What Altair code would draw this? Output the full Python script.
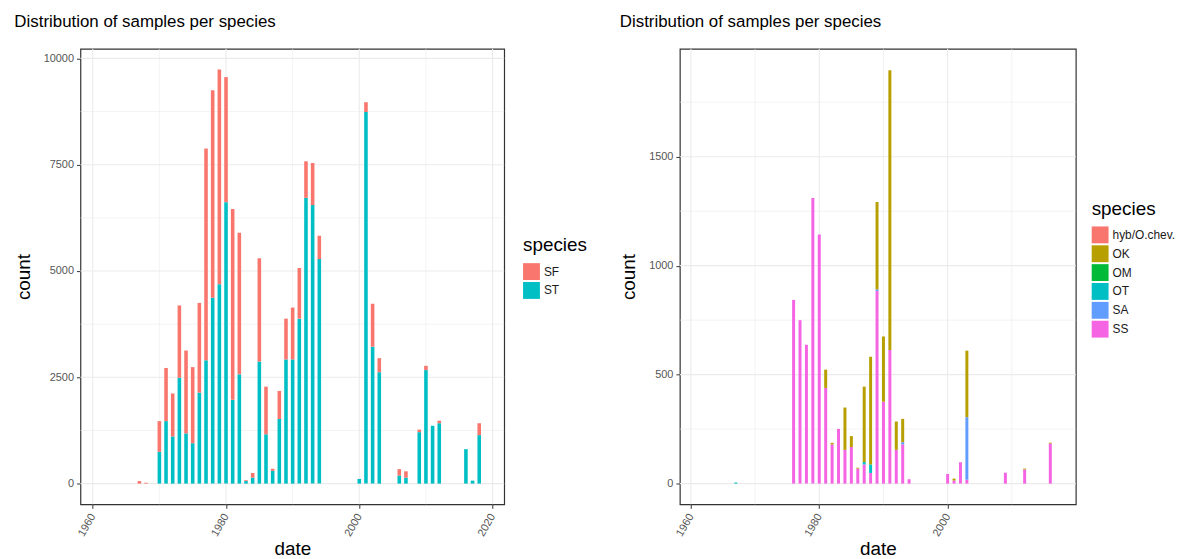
import altair as alt
import pandas as pd

# ---- left panel: SF / ST samples per year ----
left_years = [1967, 1968, 1970, 1971, 1972, 1973, 1974, 1975, 1976, 1977, 1978,
              1979, 1980, 1981, 1982, 1983, 1984, 1985, 1986, 1987, 1988, 1989,
              1990, 1991, 1992, 1993, 1994, 2000, 2001, 2002, 2003, 2006, 2007,
              2009, 2010, 2011, 2012, 2016, 2017, 2018]
left_st = [0, 0, 750, 1470, 1110, 2490, 1180, 950, 2140, 2900, 4370,
           4690, 6620, 1970, 2570, 60, 140, 2870, 1160, 300, 1520, 2920,
           2920, 3880, 6720, 6550, 5280, 110, 8740, 3220, 2620, 190, 140,
           1210, 2670, 1360, 1420, 810, 70, 1140]
left_sf = [60, 20, 720, 1250, 1010, 1700, 1950, 1790, 2110, 4980, 4880,
           5050, 2940, 4490, 3330, 20, 110, 2430, 1120, 50, 660, 960,
           1220, 1190, 860, 990, 550, 0, 230, 1010, 330, 150, 150,
           60, 100, 0, 60, 0, 0, 280]

# ---- right panel: other species per year ----
right_years = [1967, 1976, 1977, 1978, 1979, 1980, 1981, 1982, 1983, 1984, 1985,
               1986, 1987, 1988, 1989, 1990, 1991, 1992, 1993, 1994, 2000, 2001,
               2002, 2003, 2009, 2012, 2016]
right_ss = [0, 843, 750, 637, 1311, 1143, 439, 180, 251, 155, 168,
            69, 88, 49, 884, 376, 613, 155, 180, 20, 44, 14,
            98, 18, 50, 65, 184]
right_sa = [0, 0, 0, 0, 0, 0, 0, 0, 0, 0, 0,
            0, 0, 0, 7, 0, 0, 0, 10, 0, 0, 0,
            0, 287, 0, 0, 0]
right_ot = [5, 0, 0, 0, 0, 0, 0, 0, 0, 0, 0,
            0, 11, 39, 0, 0, 0, 0, 0, 0, 0, 0,
            0, 0, 0, 0, 0]
right_om = [0] * len(right_years)
right_ok = [0, 0, 0, 0, 0, 0, 84, 7, 0, 194, 50,
            4, 346, 494, 401, 299, 1284, 130, 107, 0, 0, 9,
            0, 305, 0, 4, 4]
right_hyb = [0] * len(right_years)

left_species = ["SF", "ST"]
left_colors = ["#F8766D", "#00BFC4"]
right_species = ["hyb/O.chev.", "OK", "OM", "OT", "SA", "SS"]
right_colors = ["#F8766D", "#B79F00", "#00BA38", "#00BFC4", "#619CFF", "#F564E3"]

FONT = "Liberation Sans"
TITLE = "Distribution of samples per species"
LABEL_GREY = "#555555"


def long_table(years, series):
    # series is listed bottom of the stack first
    rows = []
    for rank, (name, values) in enumerate(series):
        for year, v in zip(years, values):
            if v > 0:
                rows.append({"date": year, "species": name, "count": v, "stack": rank})
    return pd.DataFrame(rows)


def panel(df, species, colors, x_dom, y_dom, x_major, x_minor, y_major, y_minor,
          width, bar_size, legend_x, legend_y):
    xs = alt.Scale(domain=x_dom, nice=False, zero=False)
    ys = alt.Scale(domain=y_dom, nice=False, zero=False)
    # same axis objects on every layer so they merge into one
    x_axis = alt.Axis(values=x_major, format="d", title="date", labelAngle=300,
                      labelAlign="right", labelBaseline="middle", labelPadding=6,
                      labelColor=LABEL_GREY, titlePadding=2)
    y_axis = alt.Axis(values=y_major, format="d", title="count", labelColor=LABEL_GREY,
                      titlePadding=10)

    def grid(values, channel, width_px):
        rule = alt.Chart(pd.DataFrame({"v": values})).mark_rule(color="#ebebeb", strokeWidth=width_px)
        if channel == "x":
            return rule.encode(x=alt.X("v:Q", scale=xs, axis=x_axis))
        return rule.encode(y=alt.Y("v:Q", scale=ys, axis=y_axis))

    bars = (
        alt.Chart(df)
        .mark_bar(orient="vertical", size=bar_size)
        .encode(
            x=alt.X("date:Q", scale=xs, axis=x_axis),
            y=alt.Y("count:Q", stack="zero", scale=ys, axis=y_axis),
            color=alt.Color("species:N",
                            scale=alt.Scale(domain=species, range=colors),
                            legend=alt.Legend(title="species", orient="none",
                                              legendX=legend_x, legendY=legend_y)),
            order=alt.Order("stack:Q", sort="ascending"),
        )
    )

    layers = [
        grid(x_minor, "x", 0.6),
        grid(y_minor, "y", 0.6),
        grid(x_major, "x", 1.1),
        grid(y_major, "y", 1.1),
        bars,
    ]
    return alt.layer(*layers).properties(
        width=width,
        height=459,
        title=alt.TitleParams(TITLE, anchor="start", fontSize=17, fontWeight="normal",
                              color="black", font=FONT, offset=17),
    )


left_df = long_table(left_years, [("ST", left_st), ("SF", left_sf)])
right_df = long_table(right_years, [("SS", right_ss), ("SA", right_sa), ("OT", right_ot),
                                    ("OM", right_om), ("OK", right_ok), ("hyb/O.chev.", right_hyb)])

left = panel(left_df, left_species, left_colors, [1958.9, 2021], [-487, 10226],
             [1960, 1980, 2000, 2020], [1970, 1990, 2010],
             [0, 2500, 5000, 7500, 10000], [1250, 3750, 6250, 8750],
             427, 3.6, 446, 189)
right = panel(right_df, right_species, right_colors, [1959.05, 2019.2], [-95, 1995],
              [1960, 1980, 2000], [1970, 1990, 2010],
              [0, 500, 1000, 1500], [250, 750, 1250, 1750],
              399, 3, 415, 152)

chart = (
    alt.hconcat(left, right, spacing=30)
    .resolve_scale(color="independent")
    .resolve_legend(color="independent")
    .properties(padding={"left": 5, "top": 2, "right": 5, "bottom": 0})
    .configure_view(stroke="#333333", strokeWidth=1.2)
    .configure_axis(domain=False, grid=False, tickColor="#333333", tickSize=4,
                    labelColor=LABEL_GREY, labelFontSize=11, labelFont=FONT,
                    titleFont=FONT, titleFontSize=19, titleFontWeight="normal",
                    titleColor="black", labelPadding=3)
    .configure_legend(titleFont=FONT, titleFontSize=19, titleFontWeight="normal",
                      titleColor="black", titlePadding=8, labelFont=FONT,
                      labelFontSize=12, labelColor="#1a1a1a", symbolType="square",
                      symbolSize=289, symbolStrokeWidth=0, symbolOpacity=1,
                      rowPadding=2)
)

chart.save("out.html", embed_options={"renderer": "svg", "actions": False})
